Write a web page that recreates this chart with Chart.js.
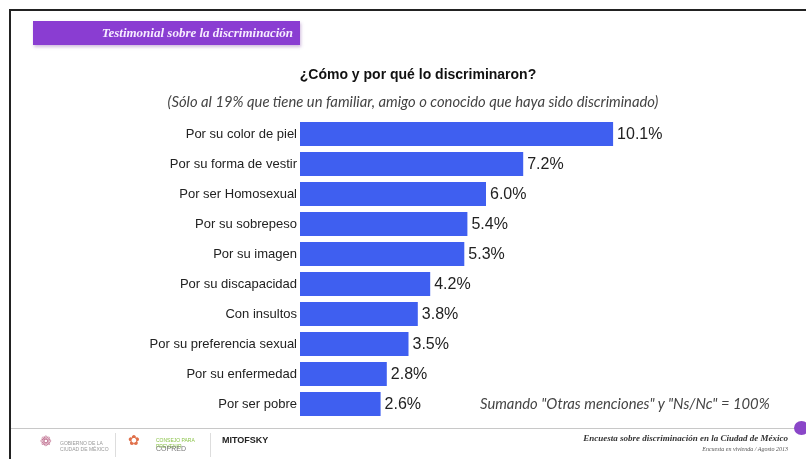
<!DOCTYPE html>
<html>
<head>
<meta charset="utf-8">
<script src="https://cdn.jsdelivr.net/npm/chart.js@4/dist/chart.umd.min.js"></script>
<style>
  html, body { margin: 0; padding: 0; background: #fff; }
  #slide { position: relative; width: 806px; height: 459px; overflow: hidden; background: #fff; }
  #chartBars { position: absolute; left: 0; top: 0; }
  .frameTop { position: absolute; left: 9px; top: 9px; width: 797px; height: 2px; background: #222; }
  .frameLeft { position: absolute; left: 9px; top: 9px; width: 2px; height: 450px; background: #222; }
  .tag { position: absolute; left: 33px; top: 21px; width: 267px; height: 24px; background: #8a3dd2;
         box-shadow: 1px 2px 3px rgba(120,60,160,.35); }
  .tag span { position: absolute; right: 7px; top: 4px; color: #f6ecff; font: italic bold 13px "Liberation Serif", serif; }
  .title { position: absolute; left: 218px; width: 400px; top: 66px; text-align: center; font: bold 14px "Liberation Sans", Arial, sans-serif; color: #111; }
  .subtitle { position: absolute; left: 113px; width: 600px; top: 92px; text-align: center; font: italic 14.8px Lato, sans-serif; color: #444; }
  .note { position: absolute; left: 480px; top: 394px; font: italic 14.8px Lato, sans-serif; color: #444; }
  .footLine { position: absolute; left: 11px; top: 428px; width: 785px; height: 1px; background: #c8c8c8; }
  .dot { position: absolute; left: 794px; top: 421px; width: 15px; height: 14px; border-radius: 50%; background: #8a46c8; }
  .foot1 { position: absolute; right: 18px; top: 433px; font: italic bold 9px "Liberation Serif", serif; color: #333; }
  .foot2 { position: absolute; right: 18px; top: 446px; font: italic 6px "Liberation Serif", serif; color: #555; }
  .sep { position: absolute; top: 433px; width: 1px; height: 24px; background: #ddd; }
  .logoTxt { position: absolute; font: 5px "Liberation Sans", sans-serif; color: #999; line-height: 6px; }
  .mito { position: absolute; left: 222px; top: 435px; font: bold 9px "Liberation Sans", sans-serif; color: #222; }
  .copred { position: absolute; left: 156px; top: 445px; font: 7px "Liberation Sans", sans-serif; color: #777; }
</style>
</head>
<body>
<div id="slide">
  <canvas id="chartBars" width="806" height="459"></canvas>
  <div class="frameTop"></div>
  <div class="frameLeft"></div>
  <div class="tag"><span>Testimonial sobre la discriminación</span></div>
  <div class="title">¿Cómo y por qué lo discriminaron?</div>
  <div class="subtitle">(Sólo al 19% que tiene un familiar, amigo o conocido que haya sido discriminado)</div>
  <div class="note">Sumando "Otras menciones" y "Ns/Nc" = 100%</div>
  <div class="footLine"></div>
  <div class="dot"></div>
  <div class="logoTxt" style="left:40px;top:438px;color:#c07090;font-size:14px;">&#10049;</div>
  <div class="logoTxt" style="left:60px;top:440px;">GOBIERNO DE LA<br>CIUDAD DE MÉXICO</div>
  <div class="sep" style="left:115px;"></div>
  <div class="logoTxt" style="left:128px;top:437px;color:#e0704a;font-size:14px;">&#10047;</div>
  <div class="logoTxt" style="left:156px;top:437px;color:#8bc34a;">CONSEJO PARA<br>PREVENIR</div>
  <div class="copred">COPRED</div>
  <div class="sep" style="left:210px;"></div>
  <div class="mito">MITOFSKY</div>
  <div class="foot1">Encuesta sobre discriminación en la Ciudad de México</div>
  <div class="foot2">Encuesta en vivienda / Agosto 2013</div>
</div>
<script>
  let categories = [
    "Por su color de piel",
    "Por su forma de vestir",
    "Por ser Homosexual",
    "Por su sobrepeso",
    "Por su imagen",
    "Por su discapacidad",
    "Con insultos",
    "Por su preferencia sexual",
    "Por su enfermedad",
    "Por ser pobre"
  ];
  let values = [10.1, 7.2, 6.0, 5.4, 5.3, 4.2, 3.8, 3.5, 2.8, 2.6];
  let barColor = "#3f5ff0";

  // etiqueta de porcentaje al final de cada barra
  let valueLabels = {
    id: "valueLabels",
    afterDatasetsDraw: function(chart) {
      let ctx = chart.ctx;
      let meta = chart.getDatasetMeta(0);
      ctx.save();
      ctx.font = "16px 'Liberation Sans', Arial, sans-serif";
      ctx.fillStyle = "#222";
      ctx.textAlign = "left";
      ctx.textBaseline = "middle";
      meta.data.forEach(function(bar, i) {
        ctx.fillText(values[i].toFixed(1) + "%", bar.x + 4, bar.y + 1);
      });
      ctx.restore();
    }
  };

  let ctx = document.getElementById("chartBars");

  let chartBars = new Chart(ctx, {
    type: "bar",
    data: {
      labels: categories,
      datasets: [{
        data: values,
        backgroundColor: barColor,
        barPercentage: 0.8,
        categoryPercentage: 1
      }]
    },
    options: {
      indexAxis: "y",
      responsive: false,
      animation: false,
      devicePixelRatio: 1,
      layout: { padding: { left: 0, right: 72, top: 119, bottom: 40 } },
      plugins: { legend: { display: false }, tooltip: { enabled: false } },
      scales: {
        x: { display: false, min: 0, max: 14 },
        y: {
          grid: { display: false, drawTicks: false },
          border: { display: false },
          ticks: {
            padding: 3,
            color: "#222",
            font: { family: "'Liberation Sans', Arial, sans-serif", size: 13 }
          },
          afterFit: function(scale) { scale.width = 300; }
        }
      }
    },
    plugins: [valueLabels]
  });
</script>
</body>
</html>
